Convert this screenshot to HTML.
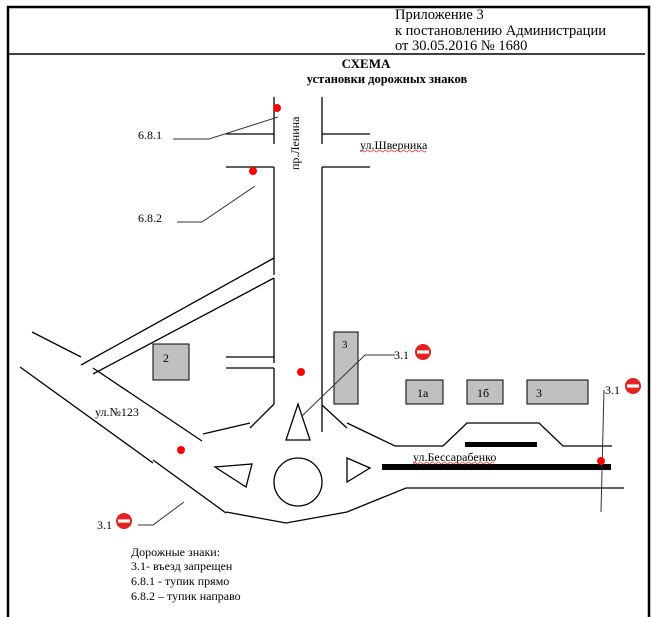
<!DOCTYPE html>
<html><head><meta charset="utf-8"><style>
html,body{margin:0;padding:0;background:#fff;width:658px;height:617px;overflow:hidden}
svg{display:block}
text{font-family:"Liberation Serif",serif;fill:#000}
</style></head><body>
<svg width="658" height="617" viewBox="0 0 658 617" xmlns="http://www.w3.org/2000/svg">
<defs>
<g id="ne"><circle r="8" fill="#e32222"/><rect x="-6" y="-1.6" width="12" height="3.2" fill="#fff"/></g>
</defs>
<!-- frame -->
<path d="M8,617 V7 H649 V617" fill="none" stroke="#000" stroke-width="2.5"/>
<line x1="8" y1="54" x2="645" y2="54" stroke="#000" stroke-width="1.5"/>
<g font-size="14.5">
<text x="395" y="19">Приложение 3</text>
<text x="395" y="35">к постановлению  Администрации</text>
<text x="395" y="50">от 30.05.2016 № 1680</text>
</g>
<text x="366" y="68" font-size="13" font-weight="bold" text-anchor="middle">СХЕМА</text>
<text x="387" y="83" font-size="12.5" font-weight="bold" text-anchor="middle">установки  дорожных знаков</text>

<g stroke="#000" stroke-width="1.3" fill="none">
<!-- пр.Ленина -->
<line x1="274" y1="97" x2="274" y2="144"/>
<line x1="322" y1="97" x2="322" y2="144"/>
<line x1="226" y1="134" x2="274" y2="134"/>
<line x1="322" y1="134" x2="370" y2="134"/>
<line x1="226" y1="167" x2="274" y2="167"/>
<line x1="322" y1="167" x2="370" y2="167"/>
<line x1="274" y1="167" x2="274" y2="275"/>
<line x1="274" y1="278" x2="274" y2="363"/>
<line x1="274" y1="368" x2="274" y2="404"/>
<line x1="322" y1="167" x2="322" y2="432"/>
<line x1="226" y1="357" x2="274" y2="357"/>
<line x1="226" y1="368" x2="274" y2="368"/>
<!-- diagonal roads -->
<line x1="274" y1="258" x2="81" y2="365"/>
<line x1="274" y1="278" x2="93" y2="374"/>
<line x1="32" y1="332" x2="81" y2="357"/>
<line x1="20" y1="367" x2="153" y2="463"/>
<line x1="93" y1="368" x2="202" y2="441"/>
<line x1="203" y1="434" x2="250" y2="423"/>
<line x1="250" y1="428" x2="274" y2="404"/>
<line x1="153" y1="460" x2="226" y2="513"/>
<line x1="322" y1="405" x2="347" y2="428"/>
<polyline points="347,423 395,446 443,446 467,423 539,423 563,446 612,446"/>
<polyline points="226,512 286,523 347,512 406,488 624,488"/>
<!-- islands -->
<polygon points="286,440 310,440 298,404"/>
<polygon points="347,458 370,468 347,482"/>
<polygon points="215,467 252,464 246,487"/>
<circle cx="298" cy="482" r="24"/>
</g>
<!-- buildings -->
<g fill="#c0c0c0" stroke="#000" stroke-width="1">
<rect x="153" y="344" width="36" height="36"/>
<rect x="334" y="332" width="24" height="72"/>
<rect x="406" y="380" width="37" height="24"/>
<rect x="467" y="380" width="36" height="24"/>
<rect x="527" y="380" width="61" height="24"/>
</g>
<g font-size="12">
<text x="163" y="362">2</text>
<text x="342" y="348" font-size="11">3</text>
<text x="417" y="397">1а</text>
<text x="477" y="397">1б</text>
<text x="536" y="397">3</text>
</g>
<rect x="465" y="442" width="72" height="5" fill="#000"/>
<rect x="382" y="464" width="229" height="6" fill="#000"/>
<!-- leaders -->
<g stroke="#333" stroke-width="1" fill="none">
<polyline points="173,139 209,139 278,117"/>
<polyline points="177,222 202,222 255,186"/>
<polyline points="302,416 365,355 395,355"/>
<polyline points="604,390 601,512"/>
<polyline points="184,502 153,525 138,525"/>
</g>
<!-- dots -->
<g fill="#ff0000">
<circle cx="277" cy="108" r="4"/>
<circle cx="253" cy="171" r="4"/>
<circle cx="301" cy="372" r="4"/>
<circle cx="181" cy="450" r="4"/>
<circle cx="601" cy="461" r="4"/>
</g>
<!-- labels -->
<g font-size="12">
<text x="138" y="139">6.8.1</text>
<text x="138" y="222">6.8.2</text>
<text x="360" y="149">ул.Шверника</text>
<text x="95" y="416">ул.№123</text>
<text x="413" y="461">ул.Бессарабенко</text>
<text x="394" y="359">3.1</text>
<text x="605" y="394">3.1</text>
<text x="97" y="529">3.1</text>
<text transform="translate(299,170) rotate(-90)">пр.Ленина</text>
</g>
<path d="M360,151 q1.5,-2 3,0 t3,0 t3,0 t3,0 t3,0 t3,0 t3,0 t3,0 t3,0 t3,0 t3,0 t3,0 t3,0 t3,0 t3,0 t3,0 t3,0 t3,0 t3,0 t3,0 t3,0 t3,0" stroke="#e33" stroke-width="0.8" fill="none"/>
<path d="M413,463 q1.5,-2 3,0 t3,0 t3,0 t3,0 t3,0 t3,0 t3,0 t3,0 t3,0 t3,0 t3,0 t3,0 t3,0 t3,0 t3,0 t3,0 t3,0 t3,0 t3,0 t3,0 t3,0 t3,0 t3,0 t3,0 t3,0 t3,0 t3,0" stroke="#e33" stroke-width="0.8" fill="none"/>
<use href="#ne" x="423" y="352"/>
<use href="#ne" x="633" y="386"/>
<use href="#ne" x="124" y="521"/>
<!-- legend -->
<g font-size="12">
<text x="131" y="556">Дорожные знаки:</text>
<text x="131" y="570">3.1- въезд запрещен</text>
<text x="131" y="585">6.8.1 -  тупик прямо</text>
<text x="131" y="600">6.8.2 – тупик направо</text>
</g>
</svg>
</body></html>
